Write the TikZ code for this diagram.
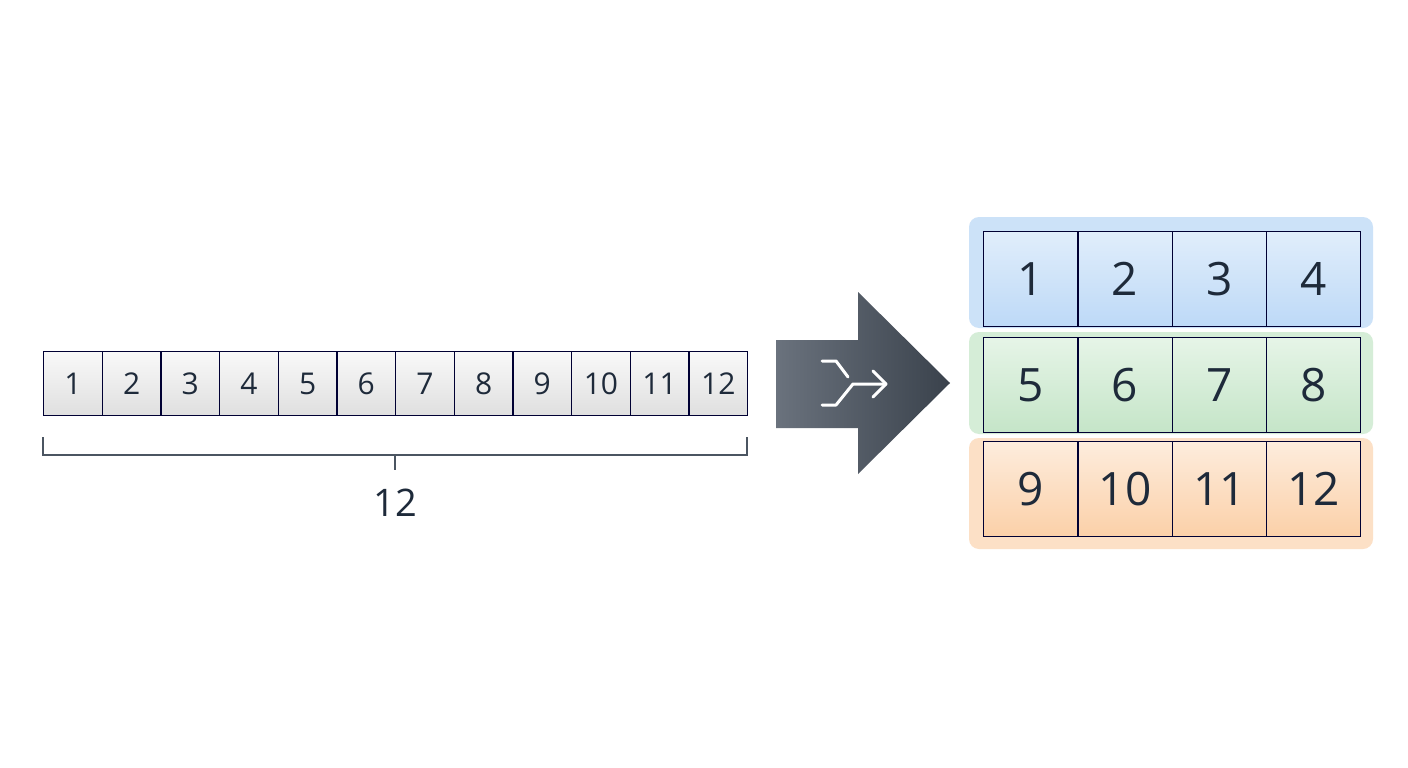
\documentclass[tikz,border=0pt]{standalone}
\usepackage{fontspec}
\setmainfont{Open Sans}
\begin{document}
\begin{tikzpicture}[x=1pt,y=-1pt,
  cell/.style={draw=black!80!blue,line width=1.2pt,minimum width=58.67pt,minimum height=64pt,anchor=north west,inner sep=0pt,font=\fontsize{30}{32}\selectfont,text=tx,top color=white!95!gray,bottom color=gray!25},
  rc/.style={draw=black!80!blue,line width=1.4pt,minimum width=94.25pt,minimum height=95pt,anchor=north west,inner sep=0pt,font=\fontsize{46}{48}\selectfont,text=tx},
  bg/.style={rounded corners=10pt}]
\definecolor{tx}{HTML}{1E2A3A}
\definecolor{bA}{HTML}{CCE2F8}\definecolor{bB}{HTML}{BDD9F7}
\definecolor{gA}{HTML}{D5EDD7}\definecolor{gB}{HTML}{C5E5C8}
\definecolor{oA}{HTML}{FCE0C6}\definecolor{oB}{HTML}{FBD0A8}
\definecolor{ar1}{HTML}{6A727D}\definecolor{ar2}{HTML}{3A424C}
\useasboundingbox (0,0) rectangle (1408,768);
\fill[white] (0,0) rectangle (1408,768);
% left strip
\foreach \i in {1,...,12}{
  \node[cell] (c\i) at ({43+(\i-1)*58.67},351) {\i};
}
\draw[tx!80,line width=1.2pt] (43,437) -- (43,455) -- (747,455) -- (747,437);
\draw[tx!80,line width=1.2pt] (395,455) -- (395,470);
\node[font=\fontsize{38}{40}\selectfont,text=tx] (lab) at (395,503) {12};
% arrow
\shade[left color=ar1,right color=ar2] (776,340) -- (858,340) -- (858,292) -- (950,383) -- (858,474) -- (858,428) -- (776,428) -- cycle;
\draw[white,line width=3pt,line cap=round,line join=round] (822,361) -- (836,361) -- (848,377);
\draw[white,line width=3pt,line cap=round,line join=round] (822,405) -- (836,405) -- (853,384) -- (886,384);
\draw[white,line width=3pt,line cap=round,line join=round] (873,371) -- (886,384) -- (873,397);
% right
\fill[bg,bA] (969,217) rectangle (1373,328);
\fill[bg,gA] (969,332) rectangle (1373,434);
\fill[bg,oA] (969,438) rectangle (1373,549);
\foreach \r/\ca/\cb/\y in {0/bA/bB/231,1/gA/gB/337,2/oA/oB/441}{
  \foreach \c in {1,...,4}{
    \pgfmathtruncatemacro{\n}{\r*4+\c}
    \node[rc,top color=\ca!60!white,bottom color=\cb] (r\n) at ({983+(\c-1)*94.25},\y) {\n};
  }
}
\end{tikzpicture}
\end{document}
